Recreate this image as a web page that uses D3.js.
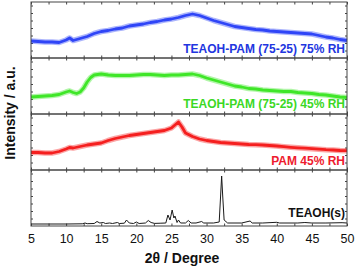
<!DOCTYPE html>
<html><head><meta charset="utf-8">
<script src="https://cdn.jsdelivr.net/npm/d3@7/dist/d3.min.js"></script>
<style>body{margin:0;background:#fff}svg{display:block}text{font-family:Arial,"Liberation Sans",sans-serif}</style>
</head><body><svg id="c" width="355" height="268"></svg>
<script>
// x ticks
const xTickLabels = [5,10,15,20,25,30,35,40,45,50];
// series (2θ in degrees, relative intensity in a.u.)
const blueDeg = [5,6,7,8,9,10,10.5,11,12,13,14,15,16,17,18,19,20,21,22,23,24,25,26,27,28,29,30,31,32,33,34,35,36,37,38,39,40,41,42,43,44,45,46,47,48,49,50];
const blueI   = [17,16.5,16,16,15.5,18,20,17.5,19.5,21.5,24.5,26.5,27.5,29,30,32,33,34,35.5,36.5,38,39,40.5,42.5,44,42.5,40,37.5,35.5,33.5,31.5,30.5,29.5,28.5,28,27,26.5,26,25.5,25,24.5,24,22.5,21,20,18.5,17.5];
const greenDeg = [5,6,7,8,9,10,10.5,11,11.5,12,12.5,13,13.5,14,15,16,17,18,19,20,21,22,23,24,25,26,27,28,29,30,31,32,33,34,35,36,37,38,39,40,41,42,43,44,45,46,47,48,49,50];
const greenI   = [17,17.5,18,18.5,19.5,22,23,21.5,20.5,22,26,32,36.5,39,40,39,38.5,38.5,38.5,39,39.5,39.5,39,38.5,39,39,39.5,40,38.5,36,34,32,30,28,27,25.5,25,24,23.5,23,22.5,22.5,21.5,21,20.5,19.5,19,18,17,16.5];
const redDeg = [5,6,7,8,9,10,10.5,11,12,13,14,15,16,17,18,19,20,21,22,23,24,25,25.5,26,26.5,27,28,29,30,31,32,33,34,35,36,37,38,39,40,41,42,43,44,45,46,47,48,49,50];
const redI   = [17.5,17.5,17,17,18.5,21,22.5,22,23.5,25,26,27,29.5,31.5,33,34.5,35.5,36.5,37.5,38.5,39.5,42,45,48,43,37,33.5,31,29.5,28.5,27.5,27,26.5,26,25.5,25.3,25,24.5,24,23.3,22.7,22.2,21.8,21.3,20.8,20.3,20,19.5,19.3];
const blackDeg = [5,10,12.3,12.7,13,14,14.4,14.8,15.3,15.6,16.2,16.6,17.3,17.6,18.3,18.6,19,19.6,20,20.4,21.3,21.7,22.1,22.6,23.5,24.2,24.5,24.8,25.1,25.35,25.5,25.8,26,26.3,27,27.4,27.8,28.5,29.3,29.6,31,31.8,32,32.15,32.3,32.5,33,35,36.2,36.5,38,40,40.4,43,44,45,47,49.3,50];
const blackI   = [2,2,2.2,3,2.3,2.5,4.5,3,3.5,2.5,3,2.5,3.5,2.5,2.8,6,3,2.5,4,2.5,3,5.5,3.5,2.6,2.8,3,11,6,16,8,10,3.5,6,3,3,5.5,3,3,4.5,3,3,4,30,50,30,6,3,3,5,3,3,3.7,3,3,3.5,3,3,3.3,3];
const seriesNames = ["TEAOH-PAM (75-25) 75% RH","TEAOH-PAM (75-25) 45% RH","PAM 45% RH","TEAOH(s)"];
const seriesColors = ["#2f45f7","#3fe628","#f51f1f","#1a1a1a"];
const labelColors = ["#2236e0","#3bd824","#ee1b2e","#111"];

const svg = d3.select("#c");
const L=31, R=347, T=2, B=226;
const x = d3.scaleLinear().domain([5,50]).range([L,R]);
const panels = d3.scaleBand().domain(d3.range(4)).range([T,B]);
const ph = panels.bandwidth();
const data = [[blueDeg,blueI],[greenDeg,greenI],[redDeg,redI],[blackDeg,blackI]];
const frame = "#444";

data.forEach(([xs,ys],i)=>{
  const top = panels(i), bot = top+ph;
  const y = d3.scaleLinear().domain([0,ph]).range([bot,top]);
  const g = svg.append("g");
  const xt = d3.range(5,50.01,2.5);
  g.append("g").attr("transform",`translate(0,${bot})`).call(d3.axisBottom(x).tickValues(xt).tickSizeInner(-2.5).tickSizeOuter(0).tickFormat(""))
    .call(a=>{a.select(".domain").remove();a.selectAll("line").attr("stroke",frame);});
  g.append("g").attr("transform",`translate(0,${top})`).call(d3.axisTop(x).tickValues(xt).tickSizeInner(-2.5).tickSizeOuter(0).tickFormat(""))
    .call(a=>{a.select(".domain").remove();a.selectAll("line").attr("stroke",frame);});
  const yt = d3.range(7.5,ph-1,7.5);
  g.append("g").attr("transform",`translate(${L},0)`).call(d3.axisLeft(y).tickValues(yt).tickSizeInner(-2).tickSizeOuter(0).tickFormat(""))
    .call(a=>{a.select(".domain").remove();a.selectAll("line").attr("stroke",frame);});
  g.append("g").attr("transform",`translate(${R},0)`).call(d3.axisRight(y).tickValues(yt).tickSizeInner(-2).tickSizeOuter(0).tickFormat(""))
    .call(a=>{a.select(".domain").remove();a.selectAll("line").attr("stroke",frame);});
  const pts = xs.map((d,k)=>[d,ys[k]]);
  const line = d3.line().x(d=>x(d[0])).y(d=>y(d[1]));
  if (i<3) {
    g.append("path").datum(pts).attr("d",line).attr("fill","none")
      .attr("stroke",seriesColors[i]).attr("stroke-width",5.5).attr("stroke-opacity",0.4).attr("stroke-linejoin","round");
  }
  g.append("path").datum(pts).attr("d",line).attr("fill","none")
    .attr("stroke",seriesColors[i]).attr("stroke-width", i===3?1:2.8).attr("stroke-linejoin","round");
  g.append("text").attr("x",345).attr("y",[52.5,108,165,217][i]).attr("text-anchor","end")
    .attr("font-size",12).attr("font-weight","bold").attr("fill",labelColors[i]).text(seriesNames[i]);
  g.append("rect").attr("x",L).attr("y",top).attr("width",R-L).attr("height",ph)
    .attr("fill","none").attr("stroke",frame).attr("stroke-width",1);
});

svg.append("g").attr("transform",`translate(0,${B})`).call(d3.axisBottom(x).tickValues(xTickLabels).tickSize(0).tickPadding(8))
  .call(a=>{a.select(".domain").remove();a.selectAll("text").attr("font-size",12.5).attr("fill","#111").attr("font-family","Arial, 'Liberation Sans', sans-serif");});
svg.append("text").attr("x",182).attr("y",263).attr("text-anchor","middle").attr("font-size",14).attr("font-weight","bold").attr("fill","#111").text("2θ / Degree");
svg.append("text").attr("transform","translate(15,113) rotate(-90)").attr("text-anchor","middle").attr("font-size",14).attr("font-weight","bold").attr("fill","#111").text("Intensity / a.u.");
</script></body></html>
